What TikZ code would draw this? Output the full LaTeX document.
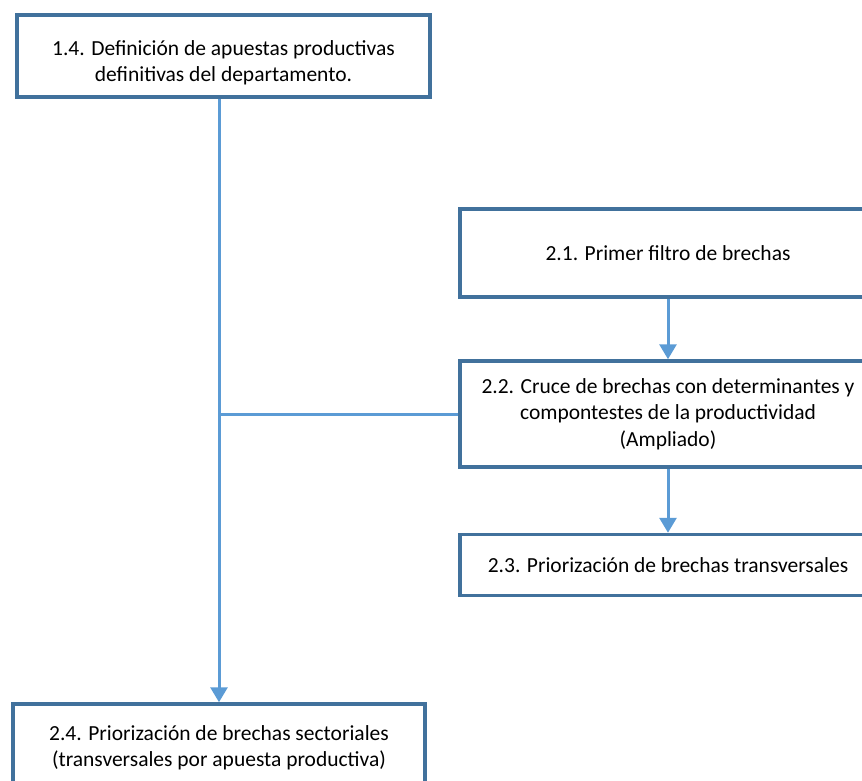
\documentclass[tikz,border=0pt]{standalone}
\usepackage{fontspec}
\setmainfont{Carlito}
\usepackage{tikz}
\usetikzlibrary{arrows.meta}
\definecolor{boxblue}{HTML}{41719C}
\definecolor{lineblue}{HTML}{5B9BD5}
\tikzstyle{stepbox} = [draw=boxblue, fill=white, line width=3.5pt,
    rectangle, align=center, inner sep=0pt,
    font=\fontsize{21.5}{26.5}\selectfont]
\tikzstyle{flowline} = [draw=lineblue, line width=3pt]
\tikzstyle{flowarrow} = [flowline, -{Triangle[width=17pt,length=15pt]}]

\begin{document}
\begin{tikzpicture}[x=1pt, y=-1pt]
                \useasboundingbox (0,0) rectangle (862,780);
                \clip (0,0) rectangle (862,780);
                \node [stepbox, minimum width=413pt, minimum height=82pt, text height=55pt] (box14) at (223.5,56)
                    {1.4. Definición de apuestas productivas\\definitivas del departamento.};
                \node [stepbox, minimum width=416pt, minimum height=88pt] (box21) at (668,253)
                    {2.1. Primer filtro de brechas};
                \node [stepbox, minimum width=416pt, minimum height=106pt] (box22) at (668,414)
                    {2.2. Cruce de brechas con determinantes y\\compontestes de la productividad\\(Ampliado)};
                \node [stepbox, minimum width=416pt, minimum height=61pt] (box23) at (668,565)
                    {2.3. Priorización de brechas transversales};
                \node [stepbox, minimum width=412pt, minimum height=88pt] (box24) at (219,748)
                    {2.4. Priorización de brechas sectoriales\\(transversales por apuesta productiva)};
                \draw [flowarrow] (box21.south) -- (box22.north);
                \draw [flowarrow] (box22.south) -- (box23.north);
                \draw [flowarrow] (box14.south -| box24.north) -- (box24.north);
                \draw [flowline] (box22.west) -- (box22.west -| box24.north);
            \end{tikzpicture}
\end{document}
